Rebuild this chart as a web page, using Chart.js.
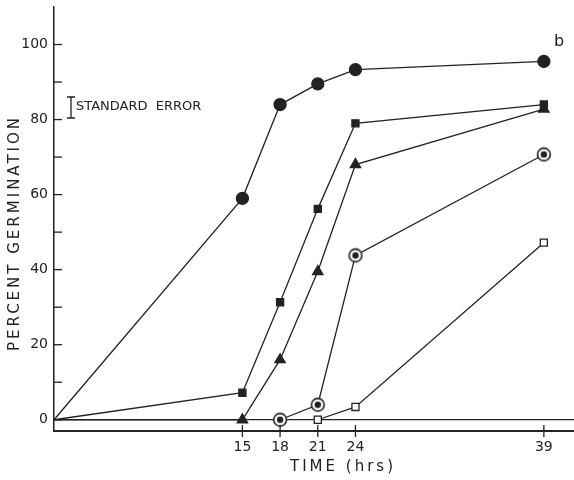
<!DOCTYPE html>
<html>
<head>
<meta charset="utf-8">
<script src="https://cdn.jsdelivr.net/npm/chart.js@4/dist/chart.umd.min.js"></script>
<style>
  html, body { margin: 0; padding: 0; background: #fff; overflow: hidden; }
  canvas { display: block; }
</style>
</head>
<body>
<canvas id="chart" width="574" height="480"></canvas>
<script>
// Germination data (hours vs percent)
const hours = [0, 15, 18, 21, 24, 39];
const filledCircle = [0, 59, 84, 89.5, 93.3, 95.5];
const filledSquare = [0, 7.2, 31.3, 56.2, 79, 84];
const filledTriangle = [0, 0, 16, 39.5, 68, 82.8];
const ringDot = [null, null, 0, 4, 43.8, 70.7];
const openSquare = [null, null, null, 0, 3.4, 47.2];

const xTicks = [15, 18, 21, 24, 39];
const yTicks = [0, 10, 20, 30, 40, 50, 60, 70, 80, 90, 100];
const yLabels = [0, 20, 40, 60, 80, 100];

const ink = '#222';

function toPoints(values) {
    const pts = [];
    values.forEach((v, i) => {
        if (v !== null) pts.push({ x: hours[i], y: v });
    });
    return pts;
}

function radii(values, r) {
    return toPoints(values).map(p => p.x === 0 ? 0 : r);
}

// circle with a dot in the middle
function ringDotStyle() {
    const c = document.createElement('canvas');
    c.width = 16; c.height = 16;
    const g = c.getContext('2d');
    g.fillStyle = '#fff';
    g.strokeStyle = ink;
    g.lineWidth = 1.6;
    g.beginPath(); g.arc(8, 8, 6.4, 0, Math.PI * 2); g.fill(); g.stroke();
    g.fillStyle = ink;
    g.beginPath(); g.arc(8, 8, 3.2, 0, Math.PI * 2); g.fill();
    return c;
}

function series(values, style, r, fill) {
    return {
        data: toPoints(values),
        showLine: true,
        borderColor: ink,
        borderWidth: 1.3,
        pointStyle: style,
        pointRadius: radii(values, r),
        pointBackgroundColor: fill,
        pointBorderColor: ink,
        pointBorderWidth: 1.3,
        tension: 0,
        clip: false
    };
}

const decorations = {
    id: 'decorations',
    afterDraw(chart) {
        const { ctx, scales: { x, y }, chartArea } = chart;
        ctx.save();
        ctx.strokeStyle = ink;
        ctx.fillStyle = ink;
        ctx.lineWidth = 1.3;
        // inward y ticks
        yTicks.forEach(v => {
            const py = y.getPixelForValue(v);
            ctx.beginPath();
            ctx.moveTo(chartArea.left, py);
            ctx.lineTo(chartArea.left + 8, py);
            ctx.stroke();
        });
        // x ticks crossing the axis
        xTicks.forEach(v => {
            const px = x.getPixelForValue(v);
            ctx.beginPath();
            ctx.moveTo(px, chartArea.bottom - 6);
            ctx.lineTo(px, chartArea.bottom + 6);
            ctx.stroke();
        });
        // standard error key
        ctx.beginPath();
        ctx.moveTo(71, 97); ctx.lineTo(71, 118);
        ctx.moveTo(67, 97); ctx.lineTo(75, 97);
        ctx.moveTo(67, 118); ctx.lineTo(75, 118);
        ctx.stroke();
        ctx.font = '13px "DejaVu Sans"';
        ctx.textBaseline = 'middle';
        ctx.textAlign = 'left';
        ctx.fillText('STANDARD  ERROR', 76, 107);
        // panel letter
        ctx.font = '16px "DejaVu Sans"';
        ctx.fillText('b', 554, 42);
        // axis titles
        ctx.letterSpacing = '3px';
        ctx.font = '15px "DejaVu Sans"';
        ctx.textAlign = 'center';
        ctx.fillText('TIME (hrs)', 343, 467);
        ctx.translate(15, 233);
        ctx.rotate(-Math.PI / 2);
        ctx.fillText('PERCENT GERMINATION', 0, 0);
        ctx.restore();
    }
};

new Chart(document.getElementById('chart'), {
    type: 'scatter',
    data: {
        datasets: [
            series(filledCircle, 'circle', 6, ink),
            series(filledSquare, 'rect', 5, ink),
            series(filledTriangle, 'triangle', 6, ink),
            series(ringDot, ringDotStyle(), 8, ink),
            series(openSquare, 'rect', 5, '#fff')
        ]
    },
    options: {
        responsive: false,
        animation: false,
        layout: { autoPadding: false, padding: { top: 7, right: 0, left: 0, bottom: 0 } },
        plugins: {
            legend: { display: false },
            tooltip: { enabled: false }
        },
        scales: {
            x: {
                type: 'linear',
                min: 0,
                max: 41.4,
                afterBuildTicks: scale => { scale.ticks = xTicks.map(v => ({ value: v })); },
                afterFit: scale => { scale.height = 49; scale.paddingRight = 0; scale.paddingLeft = 0; },
                grid: { display: false, drawTicks: false },
                border: { display: true, color: ink, width: 2 },
                ticks: {
                    color: ink,
                    padding: 8,
                    font: { family: "'DejaVu Sans'", size: 14 }
                }
            },
            y: {
                min: -3,
                max: 110,
                afterBuildTicks: scale => { scale.ticks = yTicks.map(v => ({ value: v })); },
                afterFit: scale => { scale.width = 54; scale.paddingTop = 0; scale.paddingBottom = 0; },
                grid: {
                    drawTicks: false,
                    color: c => c.tick && c.tick.value === 0 ? ink : 'transparent',
                    lineWidth: 1.3
                },
                border: { display: true, color: ink, width: 1.5 },
                ticks: {
                    color: ink,
                    padding: 6,
                    font: { family: "'DejaVu Sans'", size: 14 },
                    callback: v => yLabels.includes(v) ? v : ''
                }
            }
        }
    },
    plugins: [decorations]
});
</script>
</body>
</html>
